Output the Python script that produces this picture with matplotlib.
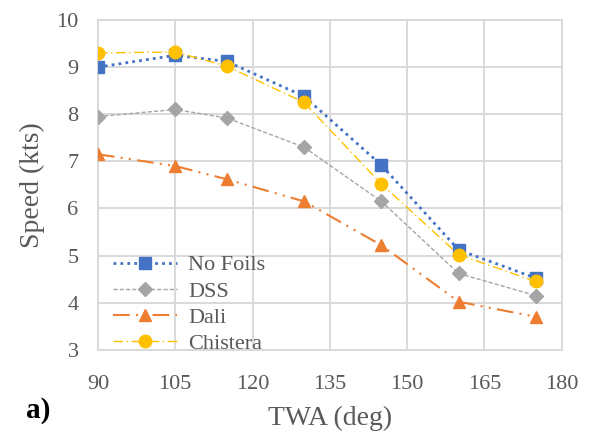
import matplotlib
matplotlib.use('Agg')
import matplotlib.pyplot as plt

plt.rcParams['font.family'] = ['Liberation Serif', 'DejaVu Serif']

# TWA angles (deg) and boat speed (kts) for each configuration
twa = [90, 105, 115, 130, 145, 160, 175]
no_foils = [9.0, 9.25, 9.12, 8.38, 6.92, 5.12, 4.52]
dss = [7.95, 8.1, 7.92, 7.3, 6.15, 4.62, 4.15]
dali = [7.15, 6.9, 6.62, 6.15, 5.22, 4.02, 3.7]
chistera = [9.3, 9.32, 9.02, 8.25, 6.52, 5.02, 4.45]

xticks = [90, 105, 120, 135, 150, 165, 180]
yticks = [3, 4, 5, 6, 7, 8, 9, 10]

fig = plt.figure(figsize=(5.9, 4.34), dpi=100)
ax = fig.add_axes([0.166, 0.194, 0.786, 0.760])

ax.plot(twa, no_foils, color='#4472C4', linestyle=(0, (1, 1.5)), linewidth=2,
        marker='s', markersize=9, label='No Foils', zorder=4)
ax.plot(twa, dss, color='#A5A5A5', linestyle=(0, (3, 1.5)), linewidth=1,
        marker='D', markersize=7, label='DSS', zorder=3)
ax.plot(twa, dali, color='#ED7D31', linestyle=(0, (8, 3, 1, 3, 1, 3)), linewidth=1.5,
        marker='^', markersize=9, label='Dali', zorder=3)
ax.plot(twa, chistera, color='#FFC000', linestyle=(0, (7, 2.5, 1, 2.5)), linewidth=1,
        marker='o', markersize=9, label='Chistera', zorder=5)

ax.set_xlim(90, 180)
ax.set_ylim(3, 10)
ax.set_xticks(xticks)
ax.set_yticks(yticks)
ax.grid(True, color='#D9D9D9', linewidth=1.4)
ax.set_axisbelow(True)
for s in ax.spines.values():
    s.set_color('#D9D9D9')
    s.set_linewidth(1.4)
ax.tick_params(length=0, labelsize=16, labelcolor='#595959')
ax.tick_params(axis='x', pad=18)
ax.tick_params(axis='y', pad=14)

ax.set_xlabel('TWA (deg)', fontsize=20, color='#595959', labelpad=9)
ax.set_ylabel('Speed (kts)', fontsize=20, color='#595959', labelpad=8)

ax.legend(loc='lower left', bbox_to_anchor=(0.032, -0.012), frameon=False,
          fontsize=16, handlelength=2.9, labelspacing=0.25, borderaxespad=0,
          borderpad=0, handletextpad=0.5, labelcolor='#595959')

fig.text(0.044, 0.055, 'a)', fontsize=21, fontweight='bold', color='black',
         va='center')

fig.savefig('out.png', dpi=100)
